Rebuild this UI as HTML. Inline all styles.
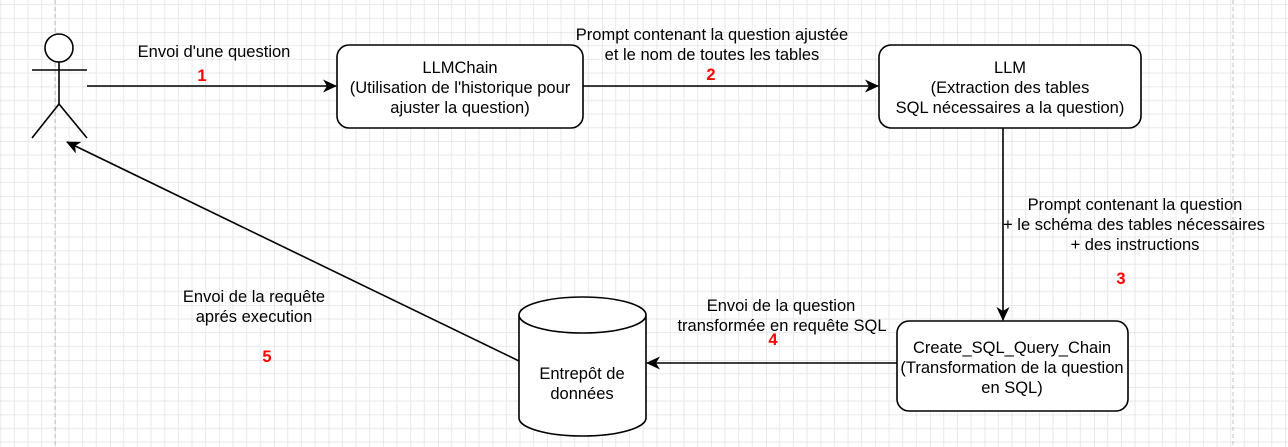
<!DOCTYPE html>
<html><head><meta charset="utf-8"><style>
html,body{margin:0;padding:0;background:#fff;}
svg{display:block;font-family:"Liberation Sans",Arial,sans-serif;}
</style></head><body>
<svg width="1288" height="447" viewBox="0 0 1288 447" xmlns="http://www.w3.org/2000/svg">
<defs>
<pattern id="g" x="0.67" y="-22.67" width="54.67" height="54.67" patternUnits="userSpaceOnUse">
<path d="M13.67 0V54.67M27.33 0V54.67M41 0V54.67M0 13.67H54.67M0 27.33H54.67M0 41H54.67" stroke="#e8e8e8" stroke-width="1" fill="none"/>
<path d="M0 0V54.67M0 0H54.67" stroke="#d4d4d4" stroke-width="1" fill="none"/>
</pattern>
<marker id="a" markerWidth="16" markerHeight="16" refX="13" refY="8" orient="auto" markerUnits="userSpaceOnUse">
<path d="M0 1.5 L14 8 L0 14.5 L4 8 Z" fill="#000"/>
</marker>
</defs>
<rect width="1288" height="447" fill="url(#g)"/>
<line x1="55" y1="0" x2="55" y2="447" stroke="#c0c0c0" stroke-dasharray="4 3"/>
<line x1="1233" y1="0" x2="1233" y2="447" stroke="#c0c0c0" stroke-dasharray="4 3"/>
<g stroke="#000" stroke-width="1.6" fill="none">
<circle cx="59" cy="48" r="14" fill="#fff"/>
<line x1="32" y1="70" x2="87" y2="70"/>
<line x1="59" y1="62" x2="59" y2="104"/>
<line x1="59" y1="104" x2="32" y2="138"/>
<line x1="59" y1="104" x2="87" y2="138"/>
<line x1="87" y1="86" x2="336" y2="86" marker-end="url(#a)"/>
<line x1="583" y1="86" x2="878" y2="86" marker-end="url(#a)"/>
<line x1="1003" y1="128" x2="1003" y2="320" marker-end="url(#a)"/>
<line x1="897" y1="363" x2="647" y2="363" marker-end="url(#a)"/>
<line x1="519" y1="361" x2="67" y2="142" marker-end="url(#a)"/>
<rect x="337" y="45" width="246" height="83" rx="12" fill="#fff"/>
<rect x="879" y="45" width="262" height="83" rx="12" fill="#fff"/>
<rect x="897" y="321" width="231" height="90" rx="12" fill="#fff"/>
<path d="M519 315 V418 A63.5 18 0 0 0 646 418 V315 A63.5 18 0 0 0 519 315 A63.5 18 0 0 0 646 315" fill="#fff"/>
</g>
<g font-size="16.5" fill="#000" text-anchor="middle">
<text x="460" y="73">LLMChain</text>
<text x="460" y="93">(Utilisation de l'historique pour</text>
<text x="460" y="113">ajuster la question)</text>
<text x="1010" y="73">LLM</text>
<text x="1010" y="93">(Extraction des tables</text>
<text x="1010" y="113">SQL nécessaires a la question)</text>
<text x="1012" y="353">Create_SQL_Query_Chain</text>
<text x="1012" y="373">(Transformation de la question</text>
<text x="1012" y="393">en SQL)</text>
<text x="582" y="379">Entrepôt de</text>
<text x="582" y="399">données</text>
<text x="214" y="57">Envoi d'une question</text>
<text x="712" y="40">Prompt contenant la question ajustée</text>
<text x="712" y="60">et le nom de toutes les tables</text>
<text x="1135" y="210">Prompt contenant la question</text>
<text x="1134" y="230">+ le schéma des tables nécessaires</text>
<text x="1135" y="250">+ des instructions</text>
<text x="781" y="311">Envoi de la question</text>
<text x="782" y="331">transformée en requête SQL</text>
<text x="254" y="302">Envoi de la requête</text>
<text x="254" y="322">aprés execution</text>
</g>
<g font-size="16.5" font-weight="bold" fill="#ff0000" text-anchor="middle">
<text x="202" y="81">1</text>
<text x="711" y="80">2</text>
<text x="1121" y="284">3</text>
<text x="773" y="345">4</text>
<text x="267" y="362">5</text>
</g>
</svg>
</body></html>
